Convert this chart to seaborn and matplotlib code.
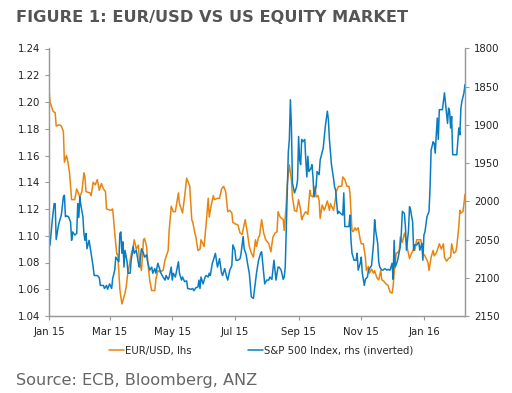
import numpy as np
import pandas as pd
import matplotlib
matplotlib.use("Agg")
import matplotlib.pyplot as plt
import matplotlib.dates as mdates
from matplotlib.ticker import FormatStrFormatter
import seaborn as sns

# days since 1 Jan 2015
start_date = "2015-01-01"
eur_days = [0, 1, 4, 6, 7, 10, 12, 14, 15, 17, 18, 20, 22, 25, 27, 30, 32, 34, 35, 36,
            40, 41, 43, 45, 47, 49, 51, 53, 55, 56, 60, 62, 64, 66, 67, 69, 70, 71, 74, 75,
            77, 78, 80, 82, 83, 85, 87, 88, 90, 92, 93, 95, 96, 98, 100, 103, 104, 106, 108, 111,
            113, 116, 117, 119, 121, 123, 126, 127, 130, 132, 134, 137, 139, 140, 142, 143, 145, 147, 148, 151,
            153, 155, 156, 158, 160, 161, 164, 166, 168, 170, 172, 174, 176, 178, 179, 181, 184, 186, 188, 191,
            193, 195, 197, 199, 201, 202, 204, 205, 207, 209, 211, 214, 216, 218, 220, 222, 223, 225, 228, 229,
            231, 232, 234, 236, 237, 239, 241, 243, 245, 246, 247, 249, 250, 252, 254, 255, 257, 259, 260, 262,
            263, 264, 266, 268, 271, 273, 274, 277, 279, 280, 282, 285, 286, 288, 290, 292, 293, 295, 296, 298,
            299, 301, 303, 304, 306, 308, 309, 311, 312, 314, 316, 317, 319, 321, 323, 324, 326, 328, 330, 332,
            334, 335, 336, 338, 339, 341, 342, 344, 346, 347, 349, 351, 353, 355, 356, 358, 360, 362, 364, 366,
            369, 370, 372, 374, 375, 377, 378, 380, 382, 384, 385, 387, 389, 391, 392, 394, 396, 397, 399, 400,
            401, 403, 404, 405]
eur_usd = [1.210, 1.200, 1.193, 1.192, 1.182, 1.183, 1.182, 1.178, 1.155, 1.160, 1.157, 1.147, 1.127, 1.127, 1.135, 1.129, 1.133, 1.147, 1.144, 1.133,
           1.132, 1.130, 1.140, 1.138, 1.142, 1.134, 1.139, 1.135, 1.133, 1.120, 1.119, 1.120, 1.102, 1.086, 1.086, 1.060, 1.054, 1.049, 1.057, 1.061,
           1.074, 1.077, 1.086, 1.092, 1.097, 1.090, 1.093, 1.082, 1.074, 1.097, 1.098, 1.092, 1.082, 1.067, 1.059, 1.059, 1.067, 1.074, 1.073, 1.074,
           1.082, 1.089, 1.104, 1.122, 1.118, 1.118, 1.132, 1.124, 1.117, 1.129, 1.143, 1.137, 1.112, 1.110, 1.102, 1.099, 1.089, 1.090, 1.097, 1.092,
           1.109, 1.128, 1.114, 1.123, 1.130, 1.127, 1.128, 1.128, 1.135, 1.137, 1.133, 1.118, 1.119, 1.117, 1.110, 1.109, 1.108, 1.102, 1.101, 1.112,
           1.103, 1.092, 1.087, 1.084, 1.097, 1.092, 1.099, 1.100, 1.112, 1.102, 1.097, 1.094, 1.088, 1.099, 1.102, 1.103, 1.118, 1.114, 1.112, 1.104,
           1.124, 1.139, 1.153, 1.142, 1.129, 1.119, 1.118, 1.127, 1.119, 1.112, 1.114, 1.117, 1.118, 1.116, 1.134, 1.130, 1.129, 1.137, 1.129, 1.130,
           1.126, 1.113, 1.123, 1.119, 1.126, 1.119, 1.124, 1.119, 1.128, 1.134, 1.137, 1.137, 1.144, 1.142, 1.137, 1.137, 1.132, 1.104, 1.103, 1.106,
           1.104, 1.106, 1.097, 1.094, 1.094, 1.084, 1.074, 1.077, 1.072, 1.075, 1.072, 1.074, 1.069, 1.067, 1.074, 1.067, 1.066, 1.064, 1.063, 1.058,
           1.057, 1.062, 1.072, 1.087, 1.087, 1.089, 1.099, 1.095, 1.102, 1.099, 1.090, 1.083, 1.087, 1.090, 1.089, 1.097, 1.097, 1.097, 1.087, 1.085,
           1.080, 1.074, 1.084, 1.089, 1.085, 1.087, 1.089, 1.094, 1.090, 1.094, 1.084, 1.081, 1.083, 1.084, 1.094, 1.087, 1.088, 1.092, 1.107, 1.119,
           1.117, 1.118, 1.124, 1.131]

spx_days = [0, 1, 3, 5, 6, 7, 9, 10, 12, 14, 15, 16, 17, 19, 21, 22, 23, 25, 27, 28,
            29, 30, 31, 33, 34, 35, 36, 37, 39, 41, 43, 44, 47, 49, 50, 53, 54, 56, 57, 59,
            61, 62, 64, 65, 66, 68, 69, 70, 71, 72, 73, 74, 76, 77, 79, 80, 82, 83, 85, 87,
            88, 90, 92, 93, 95, 96, 98, 100, 101, 103, 104, 106, 108, 109, 111, 113, 114, 116, 117, 119,
            120, 121, 123, 125, 126, 127, 129, 130, 132, 134, 135, 138, 140, 141, 143, 145, 146, 147, 148, 150,
            152, 153, 155, 156, 157, 159, 160, 162, 164, 165, 166, 168, 169, 171, 173, 174, 176, 178, 179, 181,
            182, 184, 186, 187, 189, 190, 192, 193, 195, 197, 199, 201, 202, 204, 206, 207, 209, 210, 212, 214,
            215, 217, 218, 219, 220, 221, 223, 224, 226, 228, 229, 230, 232, 233, 234, 235, 236, 237, 239, 241,
            242, 243, 244, 245, 246, 247, 249, 250, 251, 252, 253, 255, 256, 257, 258, 260, 261, 263, 264, 266,
            267, 269, 271, 272, 273, 275, 277, 278, 279, 281, 282, 284, 286, 287, 288, 290, 292, 293, 294, 295,
            297, 299, 300, 301, 303, 304, 305, 307, 308, 310, 311, 313, 314, 316, 317, 318, 320, 321, 322, 324,
            325, 327, 329, 330, 332, 334, 335, 336, 337, 339, 340, 342, 343, 344, 346, 347, 348, 350, 351, 352,
            354, 355, 356, 358, 360, 361, 363, 364, 365, 366, 368, 370, 371, 372, 374, 375, 376, 378, 379, 380,
            382, 383, 385, 386, 388, 389, 390, 391, 392, 393, 395, 397, 399, 400, 401, 402, 404, 405]
spx = [2059, 2057, 2027, 2003, 2003, 2050, 2033, 2027, 2018, 1994, 1992, 2020, 2019, 2020, 2027, 2051, 2040, 2044, 2042, 2003,
       2021, 1994, 2005, 2020, 2042, 2051, 2042, 2062, 2051, 2068, 2086, 2097, 2097, 2100, 2110, 2110, 2114, 2110, 2115, 2108,
       2114, 2101, 2090, 2073, 2075, 2079, 2042, 2040, 2068, 2053, 2086, 2064, 2079, 2094, 2094, 2077, 2059, 2068, 2064, 2081,
       2086, 2062, 2068, 2073, 2070, 2079, 2090, 2086, 2094, 2088, 2094, 2081, 2090, 2094, 2099, 2103, 2097, 2102, 2099, 2086,
       2103, 2094, 2099, 2086, 2079, 2094, 2103, 2099, 2105, 2104, 2114, 2115, 2114, 2117, 2113, 2112, 2103, 2114, 2099, 2108,
       2099, 2097, 2099, 2094, 2097, 2081, 2077, 2068, 2086, 2081, 2075, 2094, 2097, 2088, 2099, 2103, 2090, 2084, 2057, 2064,
       2077, 2077, 2075, 2068, 2046, 2062, 2070, 2079, 2094, 2125, 2127, 2105, 2094, 2077, 2068, 2066, 2094, 2108, 2103, 2103,
       2099, 2102, 2090, 2077, 2090, 2103, 2086, 2086, 2090, 2102, 2099, 2086, 1985, 1935, 1919, 1867, 1902, 1976, 1989, 1981,
       1972, 1915, 1946, 1952, 1919, 1922, 1919, 1946, 1968, 1941, 1961, 1957, 1952, 1968, 1994, 1981, 1961, 1965, 1946, 1935,
       1930, 1902, 1882, 1893, 1919, 1952, 1970, 1981, 1985, 2016, 2013, 2016, 2018, 1989, 2033, 2033, 2033, 2018, 2051, 2068,
       2077, 2077, 2068, 2090, 2081, 2073, 2094, 2110, 2102, 2099, 2090, 2086, 2084, 2055, 2024, 2038, 2055, 2079, 2086, 2090,
       2090, 2088, 2090, 2089, 2090, 2081, 2102, 2051, 2086, 2079, 2073, 2059, 2042, 2013, 2016, 2033, 2064, 2038, 2007, 2011,
       2027, 2064, 2057, 2057, 2053, 2064, 2055, 2077, 2044, 2040, 2020, 2013, 1981, 1933, 1922, 1924, 1937, 1891, 1919, 1880,
       1880, 1880, 1858, 1871, 1898, 1878, 1882, 1904, 1889, 1939, 1939, 1939, 1904, 1913, 1878, 1869, 1858, 1847]

eur_label = "EUR/USD, lhs"
spx_label = "S&P 500 Index, rhs (inverted)"
left_ticks = [1.04, 1.06, 1.08, 1.10, 1.12, 1.14, 1.16, 1.18, 1.20, 1.22, 1.24]
right_ticks = [1800, 1850, 1900, 1950, 2000, 2050, 2100, 2150]

ORANGE = "#E8850F"
BLUE = "#0A7DC2"
GREY = "#9A9A9A"

t0 = pd.Timestamp(start_date)
eur_df = pd.DataFrame({"date": t0 + pd.to_timedelta(eur_days, unit="D"), "value": eur_usd})
spx_df = pd.DataFrame({"date": t0 + pd.to_timedelta(spx_days, unit="D"), "value": spx})

sns.set_style("ticks")
plt.rcParams["font.family"] = ["DejaVu Sans"]

fig = plt.figure(figsize=(5.12, 3.93), dpi=100)
ax = fig.add_axes([49 / 512, 1 - 316 / 393, (465 - 49) / 512, (316 - 48.5) / 393])
ax2 = ax.twinx()

sns.lineplot(data=eur_df, x="date", y="value", ax=ax, color=ORANGE, lw=1.1,
             estimator=None, label=eur_label, legend=False)
sns.lineplot(data=spx_df, x="date", y="value", ax=ax2, color=BLUE, lw=1.1,
             estimator=None, label=spx_label, legend=False)

ax.set_xlim(t0, t0 + pd.Timedelta(days=max(spx_days)))
ax.set_ylim(left_ticks[0], left_ticks[-1])
ax.set_yticks(left_ticks)
ax.yaxis.set_major_formatter(FormatStrFormatter("%.2f"))
ax2.set_ylim(right_ticks[-1], right_ticks[0])
ax2.set_yticks(right_ticks)

ax.xaxis.set_major_locator(mdates.MonthLocator(bymonth=[1, 3, 5, 7, 9, 11]))
ax.xaxis.set_major_formatter(mdates.DateFormatter("%b %y"))

for a in (ax, ax2):
    a.set_xlabel("")
    a.set_ylabel("")
    a.spines["top"].set_visible(False)
    for s in ("left", "right", "bottom"):
        a.spines[s].set_color(GREY)
        a.spines[s].set_linewidth(0.9)
    a.tick_params(labelsize=7.3, colors="#222222", length=3, color=GREY, width=0.8)
ax.tick_params(axis="x", pad=5)

h1, l1 = ax.get_legend_handles_labels()
h2, l2 = ax2.get_legend_handles_labels()
fig.legend(h1 + h2, l1 + l2, loc="center", bbox_to_anchor=(0.51, 0.108), ncol=2,
           frameon=False, fontsize=7.3, handlelength=1.5, handletextpad=0.1,
           columnspacing=5.5)

fig.text(16 / 512, 1 - 17 / 393, "FIGURE 1: EUR/USD VS US EQUITY MARKET", fontsize=11.7,
         fontweight="bold", color="#555555", va="center", ha="left")
fig.text(16 / 512, 1 - 381 / 393, "Source: ECB, Bloomberg, ANZ", fontsize=11.6,
         color="#666666", va="center", ha="left")

fig.savefig("out.png", dpi=100)
